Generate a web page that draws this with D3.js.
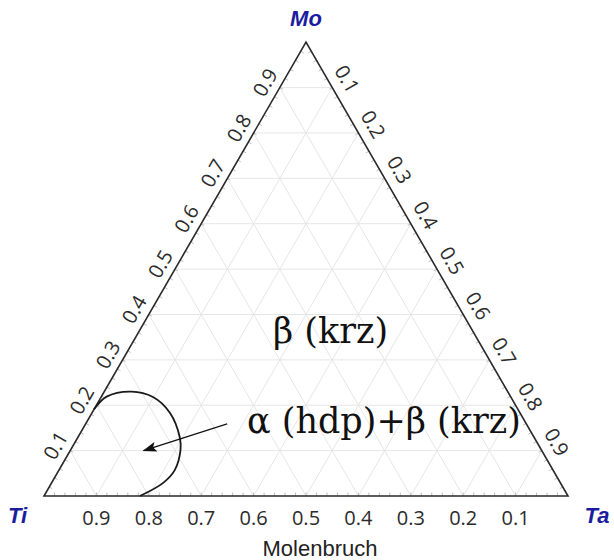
<!DOCTYPE html>
<html>
<head>
<meta charset="utf-8">
<script src="https://cdn.jsdelivr.net/npm/d3@7"></script>
<style>
  html, body { margin: 0; padding: 0; background: #fff; }
  svg { display: block; }
</style>
</head>
<body>
<script>
// Ternary phase diagram Ti–Ta–Mo
const vertexNames = ["Ti", "Ta", "Mo"];
const tickValues = [0.1, 0.2, 0.3, 0.4, 0.5, 0.6, 0.7, 0.8, 0.9];
const tickLabels = ["0.1", "0.2", "0.3", "0.4", "0.5", "0.6", "0.7", "0.8", "0.9"];
const axisTitle = "Molenbruch";

// α+β phase boundary, given as Ta and Mo mole fractions (Ti = 1 − Ta − Mo)
const boundaryTa = [0.000, 0.010, 0.052, 0.099, 0.149, 0.194, 0.210, 0.221, 0.213, 0.183];
const boundaryMo = [0.191, 0.219, 0.230, 0.218, 0.183, 0.130, 0.101, 0.057, 0.029, 0.000];

// region labels and arrow (arrow tail / head in Ta, Mo fractions)
const regionLabels = ["β (krz)", "α (hdp)+β (krz)"];
const arrowTa = [0.270, 0.140];
const arrowMo = [0.159, 0.100];

const W = 614, H = 560;
const svg = d3.select("body").append("svg").attr("width", W).attr("height", H);

const left = 44, side = 524, base = 496;
const tri = side * Math.sqrt(3) / 2;
const px = d3.scaleLinear().domain([0, 1]).range([left, left + side]);
const py = d3.scaleLinear().domain([0, 1]).range([base, base - tri]);
const proj = (ta, mo) => [px(ta + mo / 2), py(mo)];

const gridColor = "#e6e6e6";
const g = svg.append("g");

// grid lines parallel to each side
tickValues.forEach(c => {
  const segs = [
    [proj(0, c), proj(1 - c, c)],          // Mo = c
    [proj(c, 0), proj(c, 1 - c)],          // Ta = c
    [proj(1 - c, 0), proj(0, 1 - c)]       // Ti = c
  ];
  segs.forEach(s => g.append("line")
    .attr("x1", s[0][0]).attr("y1", s[0][1])
    .attr("x2", s[1][0]).attr("y2", s[1][1])
    .attr("stroke", gridColor).attr("stroke-width", 1));
});

// minor ticks along the three edges
const minor = d3.range(1, 50).map(i => i / 50);
const tickLen = 3.5;
minor.forEach(t => {
  const a = proj(t, 0);
  g.append("line").attr("x1", a[0]).attr("y1", a[1]).attr("x2", a[0]).attr("y2", a[1] - tickLen)
    .attr("stroke", "#bdbdbd").attr("stroke-width", 1);
  const b = proj(0, t);
  g.append("line").attr("x1", b[0]).attr("y1", b[1])
    .attr("x2", b[0] + tickLen * 0.866).attr("y2", b[1] + tickLen * 0.5)
    .attr("stroke", "#bdbdbd").attr("stroke-width", 1);
  const c = proj(t, 1 - t);
  g.append("line").attr("x1", c[0]).attr("y1", c[1])
    .attr("x2", c[0] - tickLen * 0.866).attr("y2", c[1] + tickLen * 0.5)
    .attr("stroke", "#bdbdbd").attr("stroke-width", 1);
});

// triangle outline
const corners = [proj(0, 0), proj(1, 0), proj(0, 1)];
g.append("path")
  .attr("d", d3.line()(corners) + "Z")
  .attr("fill", "none").attr("stroke", "#2a2a2a").attr("stroke-width", 1.6)
  .attr("stroke-linejoin", "miter");

// tick labels
const tickFont = "'Open Sans', 'DejaVu Sans', sans-serif";
const tickSize = 20;
tickValues.forEach((v, i) => {
  // bottom: Ti fraction
  const pb = proj(1 - v, 0);
  svg.append("text").attr("x", pb[0]).attr("y", pb[1] + 29)
    .attr("text-anchor", "middle").attr("font-family", tickFont).attr("font-size", tickSize)
    .attr("fill", "#2b2b2b").text(tickLabels[i]);
  // left: Mo fraction
  const pl = proj(0, v);
  const dl = 15;
  const lx = pl[0] - 0.866 * dl - 1.5, ly = pl[1] - 0.5 * dl + 2.5;
  svg.append("text").attr("transform", `translate(${lx},${ly}) rotate(-60)`)
    .attr("text-anchor", "middle").attr("dy", "0.35em")
    .attr("font-family", tickFont).attr("font-size", tickSize)
    .attr("fill", "#2b2b2b").text(tickLabels[i]);
  // right: Ta fraction
  const pr = proj(v, 1 - v);
  const dr = 17;
  const rx = pr[0] + 0.866 * dr, ry = pr[1] - 0.5 * dr;
  svg.append("text").attr("transform", `translate(${rx},${ry}) rotate(60)`)
    .attr("text-anchor", "middle").attr("dy", "0.35em")
    .attr("font-family", tickFont).attr("font-size", tickSize)
    .attr("fill", "#2b2b2b").text(tickLabels[i]);
});

// axis title
svg.append("text").attr("x", 320).attr("y", 556)
  .attr("text-anchor", "middle").attr("font-family", "'Liberation Sans', Arial, sans-serif")
  .attr("font-size", 22).attr("fill", "#222").text(axisTitle);

// vertex names
const vFont = "'Liberation Sans', Arial, sans-serif";
const vColor = "#1c1ca0";
const vPos = [[17.5, 523, "middle"], [597, 523, "middle"], [306, 26, "middle"]];
vertexNames.forEach((n, i) => {
  svg.append("text").attr("x", vPos[i][0]).attr("y", vPos[i][1])
    .attr("text-anchor", vPos[i][2]).attr("font-family", vFont)
    .attr("font-size", 22).attr("font-weight", "bold").attr("font-style", "italic")
    .attr("fill", vColor).text(n);
});

// phase boundary
const boundary = boundaryTa.map((t, i) => proj(t, boundaryMo[i]));
g.append("path")
  .attr("d", d3.line().curve(d3.curveCatmullRom.alpha(0.5))(boundary))
  .attr("fill", "none").attr("stroke", "#1a1a1a").attr("stroke-width", 1.8);

// arrow
svg.append("defs").append("marker")
  .attr("id", "head").attr("viewBox", "0 0 14 10")
  .attr("refX", 13).attr("refY", 5)
  .attr("markerWidth", 14).attr("markerHeight", 10)
  .attr("markerUnits", "userSpaceOnUse").attr("orient", "auto")
  .append("path").attr("d", "M0,0 L14,5 L0,10 L3,5 Z").attr("fill", "#111");
const a0 = proj(arrowTa[0], arrowMo[0]), a1 = proj(arrowTa[1], arrowMo[1]);
svg.append("line")
  .attr("x1", a0[0]).attr("y1", a0[1]).attr("x2", a1[0]).attr("y2", a1[1])
  .attr("stroke", "#111").attr("stroke-width", 1.3).attr("marker-end", "url(#head)");

// region labels
const serif = "'DejaVu Serif', 'Liberation Serif', serif";
svg.append("text").attr("x", 273).attr("y", 343)
  .attr("font-family", serif).attr("font-size", 35).attr("fill", "#111")
  .text(regionLabels[0]);
svg.append("text").attr("x", 247).attr("y", 433)
  .attr("font-family", serif).attr("font-size", 35).attr("fill", "#111")
  .text(regionLabels[1]);
</script>
</body>
</html>
